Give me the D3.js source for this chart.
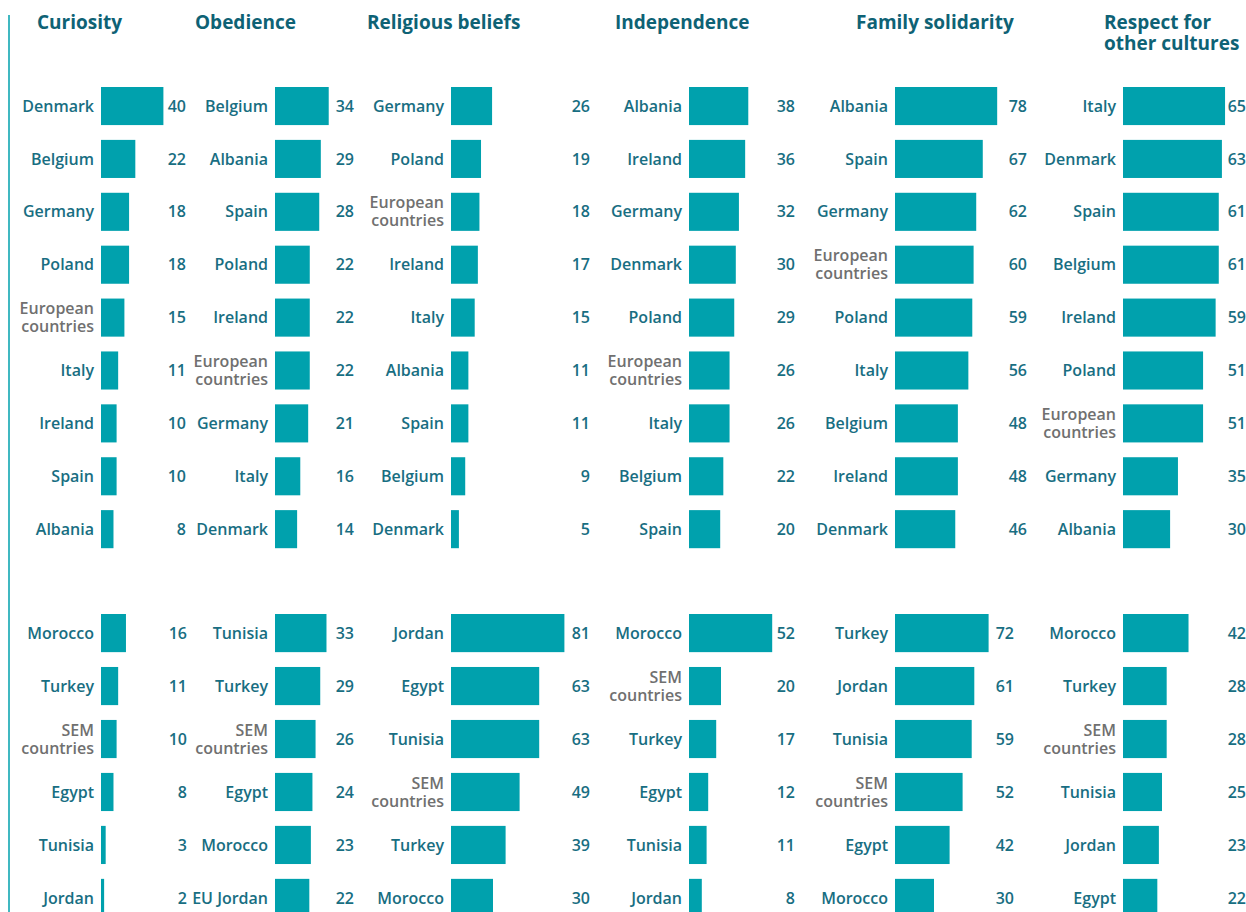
<!DOCTYPE html>
<html>
<head>
<meta charset="utf-8">
<script src="https://cdn.jsdelivr.net/npm/d3@7"></script>
<style>
  html, body { margin: 0; padding: 0; background: #fff; }
  svg { display: block; font-family: "Open Sans", "Noto Sans", sans-serif; }
</style>
</head>
<body>
<svg id="chart"></svg>
<script>
var svg_width = 1246, svg_height = 912;

// panel titles
var titles = ["Curiosity", "Obedience", "Religious beliefs", "Independence", "Family solidarity", "Respect for\nother cultures"];

// top block (European countries)
var curiosityEU = ["Denmark", "Belgium", "Germany", "Poland", "European\ncountries", "Italy", "Ireland", "Spain", "Albania"];
var curiosityEUValues = [40, 22, 18, 18, 15, 11, 10, 10, 8];
var obedienceEU = ["Belgium", "Albania", "Spain", "Poland", "Ireland", "European\ncountries", "Germany", "Italy", "Denmark"];
var obedienceEUValues = [34, 29, 28, 22, 22, 22, 21, 16, 14];
var religionEU = ["Germany", "Poland", "European\ncountries", "Ireland", "Italy", "Albania", "Spain", "Belgium", "Denmark"];
var religionEUValues = [26, 19, 18, 17, 15, 11, 11, 9, 5];
var independenceEU = ["Albania", "Ireland", "Germany", "Denmark", "Poland", "European\ncountries", "Italy", "Belgium", "Spain"];
var independenceEUValues = [38, 36, 32, 30, 29, 26, 26, 22, 20];
var familyEU = ["Albania", "Spain", "Germany", "European\ncountries", "Poland", "Italy", "Belgium", "Ireland", "Denmark"];
var familyEUValues = [78, 67, 62, 60, 59, 56, 48, 48, 46];
var respectEU = ["Italy", "Denmark", "Spain", "Belgium", "Ireland", "Poland", "European\ncountries", "Germany", "Albania"];
var respectEUValues = [65, 63, 61, 61, 59, 51, 51, 35, 30];

// bottom block (SEM countries)
var curiositySEM = ["Morocco", "Turkey", "SEM\ncountries", "Egypt", "Tunisia", "Jordan"];
var curiositySEMValues = [16, 11, 10, 8, 3, 2];
var obedienceSEM = ["Tunisia", "Turkey", "SEM\ncountries", "Egypt", "Morocco", "EU Jordan"];
var obedienceSEMValues = [33, 29, 26, 24, 23, 22];
var religionSEM = ["Jordan", "Egypt", "Tunisia", "SEM\ncountries", "Turkey", "Morocco"];
var religionSEMValues = [81, 63, 63, 49, 39, 30];
var independenceSEM = ["Morocco", "SEM\ncountries", "Turkey", "Egypt", "Tunisia", "Jordan"];
var independenceSEMValues = [52, 20, 17, 12, 11, 8];
var familySEM = ["Turkey", "Jordan", "Tunisia", "SEM\ncountries", "Egypt", "Morocco"];
var familySEMValues = [72, 61, 59, 52, 42, 30];
var respectSEM = ["Morocco", "Turkey", "SEM\ncountries", "Tunisia", "Jordan", "Egypt"];
var respectSEMValues = [42, 28, 28, 25, 23, 22];

var topLabels = [curiosityEU, obedienceEU, religionEU, independenceEU, familyEU, respectEU];
var topValues = [curiosityEUValues, obedienceEUValues, religionEUValues, independenceEUValues, familyEUValues, respectEUValues];
var bottomLabels = [curiositySEM, obedienceSEM, religionSEM, independenceSEM, familySEM, respectSEM];
var bottomValues = [curiositySEMValues, obedienceSEMValues, religionSEMValues, independenceSEMValues, familySEMValues, respectSEMValues];

// layout of each column (pixels)
var layout = [
  { titleX: 37,   barX: 101,  valTop: 186,  valBottom: 187,  kTop: 1.56, kBottom: 1.56 },
  { titleX: 195,  barX: 275,  valTop: 354,  valBottom: 354,  kTop: 1.58, kBottom: 1.56 },
  { titleX: 367,  barX: 451,  valTop: 590,  valBottom: 590,  kTop: 1.58, kBottom: 1.40 },
  { titleX: 615,  barX: 689,  valTop: 795,  valBottom: 795,  kTop: 1.56, kBottom: 1.60 },
  { titleX: 856,  barX: 895,  valTop: 1027, valBottom: 1014, kTop: 1.31, kBottom: 1.30 },
  { titleX: 1104, barX: 1123, valTop: 1246, valBottom: 1246, kTop: 1.57, kBottom: 1.56 }
];

var barColor = "#00a1ad";
var textColor = "#186e82";
var titleColor = "#0e6275";
var greyColor = "#707070";

var svg = d3.select("#chart")
  .attr("width", svg_width)
  .attr("height", svg_height);

// left rule
svg.append("line")
  .attr("x1", 9).attr("x2", 9)
  .attr("y1", 15).attr("y2", svg_height)
  .attr("stroke", barColor)
  .attr("stroke-width", 1.5);

var yTop = d3.scaleBand().domain(d3.range(9)).range([87, 87 + 8 * 52.9 + 38]).paddingInner(0.28);
var yBottom = d3.scaleBand().domain(d3.range(6)).range([614, 614 + 5 * 53 + 38]).paddingInner(0.28);

function drawBlock(g, labels, values, y, x, valX) {
  var rows = g.selectAll(".row")
    .data(values)
    .enter().append("g")
    .attr("class", "row");

  rows.append("rect")
    .attr("x", x(0))
    .attr("y", function (d, i) { return y(i); })
    .attr("width", function (d) { return x(d) - x(0); })
    .attr("height", y.bandwidth())
    .attr("fill", barColor);

  rows.append("text")
    .attr("x", valX)
    .attr("y", function (d, i) { return y(i) + y.bandwidth() / 2; })
    .attr("dy", "0.35em")
    .attr("text-anchor", "end")
    .attr("fill", textColor)
    .attr("font-size", 16)
    .attr("font-weight", 600)
    .text(function (d) { return d; });

  rows.each(function (d, i) {
    var lines = labels[i].split("\n");
    var grey = lines.length > 1;
    var mid = y(i) + y.bandwidth() / 2;
    var t = d3.select(this).append("text")
      .attr("text-anchor", "end")
      .attr("fill", grey ? greyColor : textColor)
      .attr("font-size", 16)
      .attr("font-weight", 600);
    lines.forEach(function (line, j) {
      t.append("tspan")
        .attr("x", x(0) - 7)
        .attr("y", mid + (j - (lines.length - 1) / 2) * 18)
        .attr("dy", "0.35em")
        .text(line);
    });
  });
}

layout.forEach(function (p, c) {
  var g = svg.append("g").attr("class", "panel");

  var tl = titles[c].split("\n");
  var title = g.append("text")
    .attr("fill", titleColor)
    .attr("font-size", 19)
    .attr("font-weight", 700);
  tl.forEach(function (line, j) {
    title.append("tspan")
      .attr("x", p.titleX)
      .attr("y", 29 + j * 21)
      .text(line);
  });

  var xTop = d3.scaleLinear().domain([0, 100]).range([p.barX, p.barX + 100 * p.kTop]);
  var xBottom = d3.scaleLinear().domain([0, 100]).range([p.barX, p.barX + 100 * p.kBottom]);

  drawBlock(g.append("g"), topLabels[c], topValues[c], yTop, xTop, p.valTop);
  drawBlock(g.append("g"), bottomLabels[c], bottomValues[c], yBottom, xBottom, p.valBottom);
});
</script>
</body>
</html>
